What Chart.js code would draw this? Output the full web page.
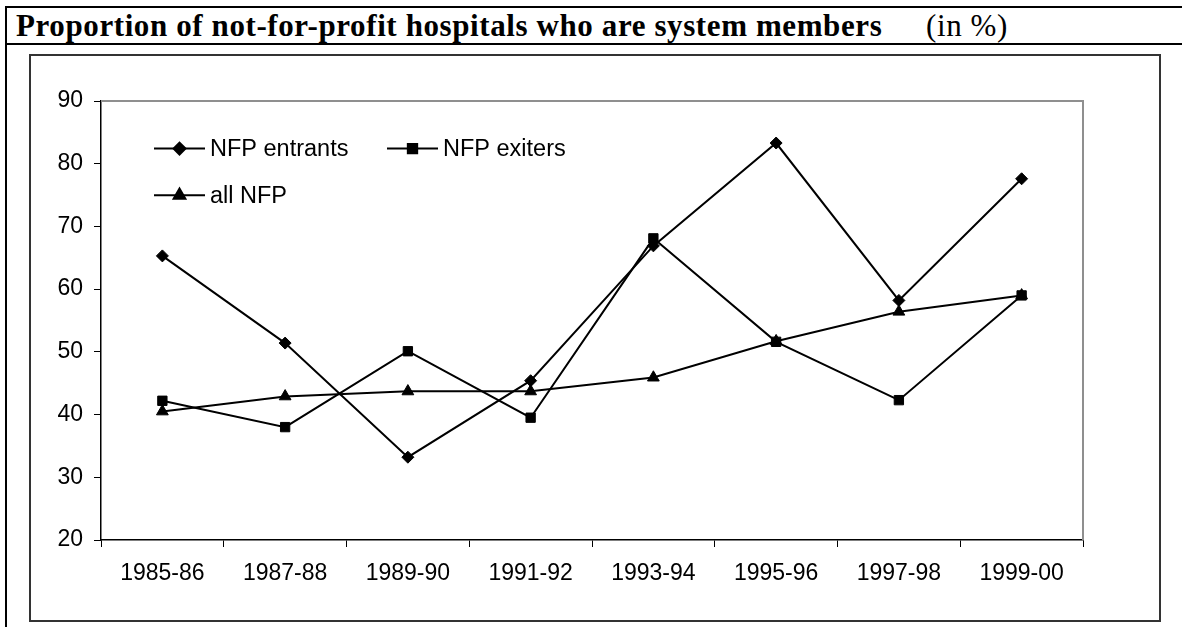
<!DOCTYPE html>
<html>
<head>
<meta charset="utf-8">
<script src="https://cdn.jsdelivr.net/npm/chart.js@4.4.1/dist/chart.umd.min.js"></script>
<style>
  html, body { margin: 0; padding: 0; background: #fff; width: 1182px; height: 627px; overflow: hidden; }
  .frame { position: absolute; left: 5px; top: 6px; width: 1300px; height: 700px;
           border-left: 2px solid #000; border-top: 2px solid #000; }
  .title-rule { position: absolute; left: 5px; top: 43px; width: 1200px; height: 2px; background: #000; }
  .title, .unit { position: absolute; top: 10px; line-height: 1; font-family: "Liberation Serif", "Times New Roman", serif;
           font-size: 31px; letter-spacing: 0.6px; color: #000; white-space: nowrap; }
  .title { left: 16px; font-weight: bold; }
  .unit { left: 926px; }
  .box { position: absolute; left: 29px; top: 54px; width: 1132px; height: 568px; box-sizing: border-box;
         border: 2px solid #333; }
  .chart-wrap { position: absolute; left: 31px; top: 56px; width: 1128px; height: 564px; }
</style>
</head>
<body>
<div class="frame"></div>
<div class="title-rule"></div>
<div class="title">Proportion of not-for-profit hospitals who are system members</div>
<div class="unit">(in %)</div>
<div class="box"></div>
<div class="chart-wrap"><canvas id="chart"></canvas></div>

<script>
const categories = ['1985-86', '1987-88', '1989-90', '1991-92', '1993-94', '1995-96', '1997-98', '1999-00'];
const entrants = [65.3, 51.4, 33.2, 45.4, 66.9, 83.3, 58.2, 77.6];
const exiters = [42.2, 38.0, 50.1, 39.5, 68.1, 51.6, 42.3, 59.0];
const allNfp = [40.5, 42.9, 43.7, 43.7, 45.9, 51.7, 56.4, 59.0];
const yTicks = [20, 30, 40, 50, 60, 70, 80, 90];

const tickFont = { family: '"Liberation Sans", Arial, sans-serif', size: 23 };

// gray border on top and right of plot area
const plotBorder = {
  id: 'plotBorder',
  beforeDatasetsDraw(chart) {
    const { ctx, chartArea: a } = chart;
    ctx.save();
    ctx.strokeStyle = '#8f8f8f';
    ctx.lineWidth = 2;
    ctx.beginPath();
    ctx.moveTo(a.left, a.top);
    ctx.lineTo(a.right, a.top);
    ctx.lineTo(a.right, a.bottom);
    ctx.stroke();
    ctx.restore();
  }
};

// legend drawn inside the plot, two rows like the original
const innerLegend = {
  id: 'innerLegend',
  afterDraw(chart) {
    const { ctx, chartArea: a } = chart;
    const spots = [[53, 47.6], [286, 47.6], [53, 94.3]];
    ctx.save();
    chart.data.datasets.forEach((ds, i) => {
      const x = a.left + spots[i][0];
      const y = a.top + spots[i][1];
      ctx.strokeStyle = '#000';
      ctx.lineWidth = 2;
      ctx.beginPath();
      ctx.moveTo(x, y);
      ctx.lineTo(x + 51, y);
      ctx.stroke();
      ctx.fillStyle = '#000';
      Chart.helpers.drawPoint(ctx, {
        pointStyle: ds.pointStyle, radius: ds.pointRadius, borderWidth: 1, rotation: 0
      }, x + 25.5, y);
      ctx.fillStyle = '#000';
      ctx.font = '23.5px "Liberation Sans", Arial, sans-serif';
      ctx.textBaseline = 'middle';
      ctx.textAlign = 'left';
      ctx.fillText(ds.label, x + 56, y + 1);
    });
    ctx.restore();
  }
};

const line = (label, data, style, r) => ({
  label, data,
  borderColor: '#000', backgroundColor: '#000', borderWidth: 2,
  pointStyle: style, pointRadius: r, pointBackgroundColor: '#000', pointBorderColor: '#000',
  pointBorderWidth: 1, tension: 0, fill: false
});

new Chart(document.getElementById('chart'), {
  type: 'line',
  data: {
    labels: categories,
    datasets: [
      line('NFP entrants', entrants, 'rectRot', 6),
      line('NFP exiters', exiters, 'rect', 6.6),
      line('all NFP', allNfp, 'triangle', 6.8)
    ]
  },
  options: {
    responsive: true,
    maintainAspectRatio: false,
    animation: false,
    events: [],
    layout: { padding: { top: 45, right: 76, left: 0, bottom: 0 } },
    plugins: { legend: { display: false }, tooltip: { enabled: false } },
    scales: {
      x: {
        offset: true,
        afterFit(s) { s.height = 80; },
        grid: { offset: true, drawOnChartArea: false, color: '#000', tickLength: 7, lineWidth: 1 },
        border: { color: '#000', width: 1.5 },
        ticks: { color: '#000', font: tickFont, padding: 13, maxRotation: 0 }
      },
      y: {
        min: 20, max: 90,
        afterFit(s) { s.width = 70; },
        afterBuildTicks(s) { s.ticks = yTicks.map(v => ({ value: v })); },
        grid: { drawOnChartArea: false, color: '#000', tickLength: 7, lineWidth: 1 },
        border: { color: '#000', width: 1.5 },
        ticks: { color: '#000', font: tickFont, padding: 11 }
      }
    }
  },
  plugins: [plotBorder, innerLegend]
});
</script>
</body>
</html>
